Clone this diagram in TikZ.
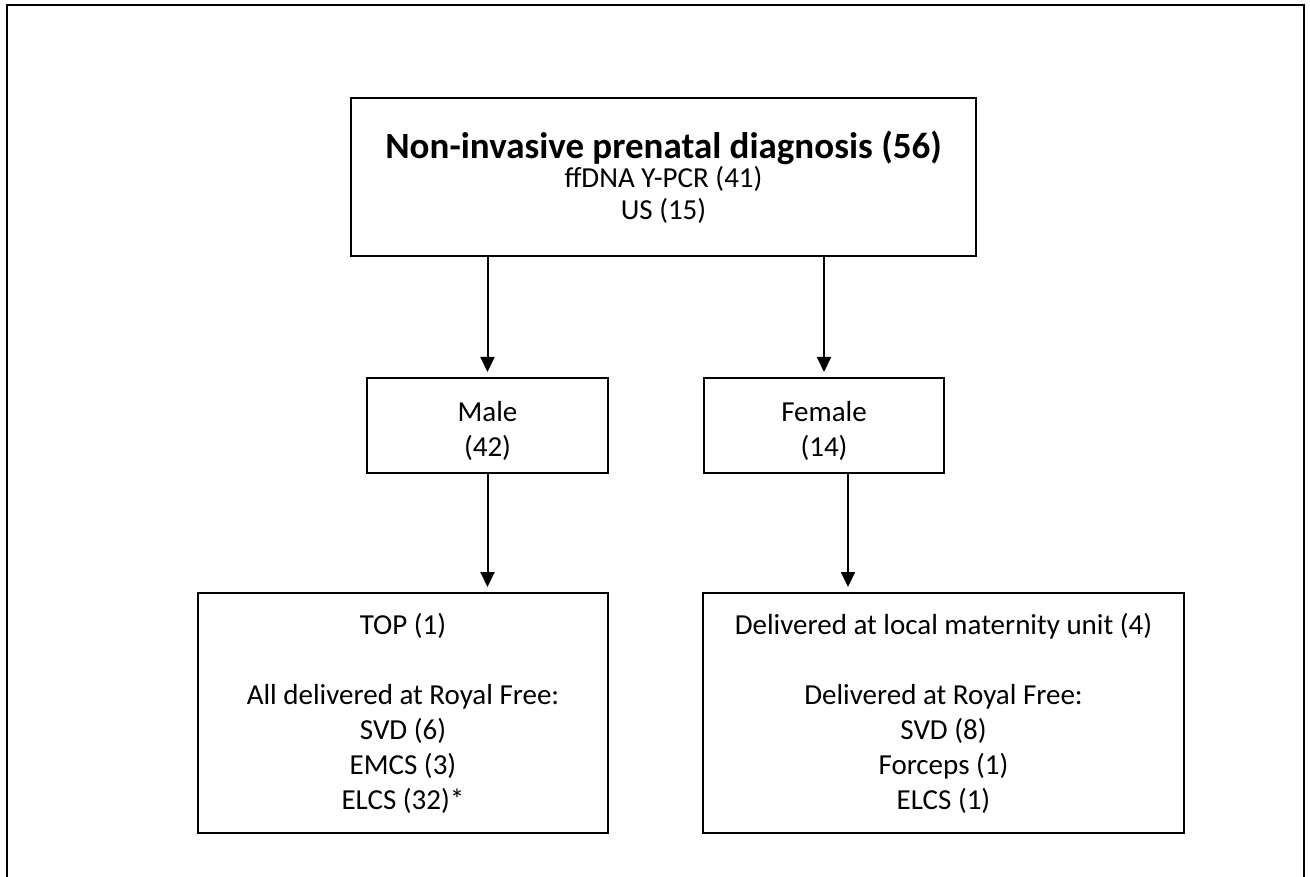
\documentclass[tikz,border=0pt]{standalone}
\usepackage{fontspec}
\setmainfont{Carlito}
\usetikzlibrary{arrows.meta}
\begin{document}
\begin{tikzpicture}[x=1pt,y=-1pt,
  box/.style={draw=black,line width=2pt,rectangle,inner sep=0pt,align=center,anchor=center},
  conn/.style={line width=2pt,-{Triangle[width=14pt,length=15pt]},shorten >=5pt},
  txt/.style={font=\fontsize{29}{35}\selectfont}]
\useasboundingbox (0,0) rectangle (1310,877);
\draw[line width=2.5pt] (7,5) rectangle (1304,920);
\node[box,txt,minimum width=625pt,minimum height=158pt] (top) at (663.5,177)
  {{\fontsize{37}{37}\selectfont\bfseries Non-invasive prenatal diagnosis (56)}\\[-6pt]
   ffDNA Y-PCR (41)\\[-3pt] US (15)};
\node[box,txt,minimum width=241pt,minimum height=95pt] (male) at (487.5,425.5)
  {\rule{0pt}{31pt}Male\\(42)};
\node[box,txt,minimum width=240pt,minimum height=95pt] (female) at (824,425.5)
  {\rule{0pt}{31pt}Female\\(14)};
\node[box,txt,minimum width=410pt,minimum height=240pt] (bl) at (403,713)
  {TOP (1)\\[35pt] All delivered at Royal Free:\\ SVD (6)\\ EMCS (3)\\ ELCS (32)*};
\node[box,txt,minimum width=481pt,minimum height=240pt] (br) at (943.5,713)
  {Delivered at local maternity unit (4)\\[35pt] Delivered at Royal Free:\\ SVD (8)\\ Forceps (1)\\ ELCS (1)};
\coordinate (fr) at (848,473);
\draw[conn] (top.south -| male.north) -- (male.north);
\draw[conn] (top.south -| female.north) -- (female.north);
\draw[conn] (male.south) -- (male.south |- bl.north);
\draw[conn] (fr) -- (fr |- br.north);
\end{tikzpicture}
\end{document}
